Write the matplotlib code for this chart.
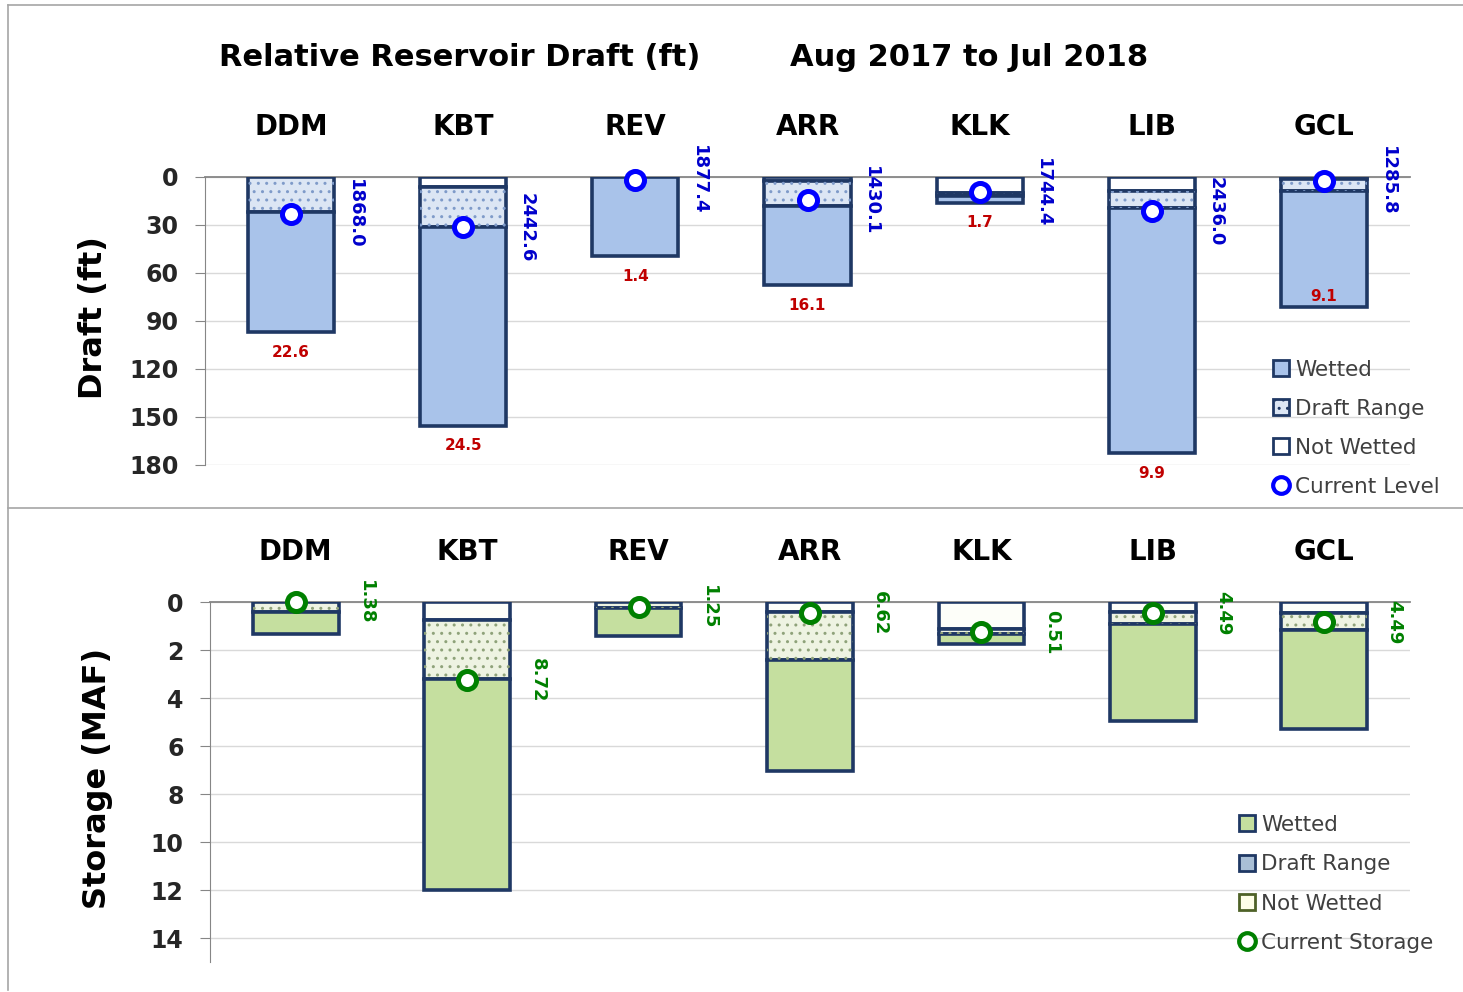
import matplotlib.pyplot as plt
from matplotlib.patches import Patch
from matplotlib.lines import Line2D
import numpy as np

reservoirs = ["DDM", "KBT", "REV", "ARR", "KLK", "LIB", "GCL"]

# relative draft (ft) below full pool
draft_not_wetted = [0, 6.5, 0, 2.5, 10, 9, 1.5]
draft_range = [22, 25, 0, 15.5, 2, 10.5, 7]
draft_wetted = [75, 124, 49.5, 49.5, 4, 153, 73]
draft_current = [23, 31.5, 2, 14.5, 9.5, 21.5, 2.5]
elevation = [1868.0, 2442.6, 1877.4, 1430.1, 1744.4, 2436.0, 1285.8]
draft_red = [22.6, 24.5, 1.4, 16.1, 1.7, 9.9, 9.1]

# storage (MAF)
stor_not_wetted = [0, 0.75, 0, 0.43, 1.12, 0.41, 0.46]
stor_range = [0.4, 2.45, 0.25, 2.0, 0.2, 0.49, 0.72]
stor_wetted = [0.95, 8.8, 1.17, 4.6, 0.45, 4.05, 4.1]
stor_current = [0.02, 3.25, 0.22, 0.45, 1.27, 0.45, 0.85]
stor_full = [1.38, 8.72, 1.25, 6.62, 0.51, 4.49, 4.49]

W, H = 1463, 992
NAVY = "#1F3864"
GRID = "#D9D9D9"
AXC = "#868686"
TXT = "#262626"
narrow = ["Liberation Sans Narrow", "DejaVu Sans"]


def px(x0, y0, x1, y1):
    return [x0 / W, 1 - y1 / H, (x1 - x0) / W, (y1 - y0) / H]


def style_axes(ax, ymax, step):
    ax.set_xlim(-0.5, len(reservoirs) - 0.5)
    ax.set_ylim(ymax, 0)
    ax.set_yticks(np.arange(0, ymax + 0.01, step) if ymax % step == 0 else np.arange(0, ymax, step))
    ax.set_xticks([])
    ax.grid(axis="y", color=GRID, lw=1)
    ax.set_axisbelow(True)
    for s in ["right", "bottom"]:
        ax.spines[s].set_visible(False)
    ax.spines["top"].set_color(AXC)
    ax.spines["top"].set_linewidth(1.3)
    ax.spines["left"].set_color(AXC)
    ax.tick_params(axis="y", length=7, color=AXC, pad=12, labelsize=17,
                   labelcolor=TXT)
    for t in ax.get_yticklabels():
        t.set_fontweight("bold")
    ax.patch.set_alpha(0)


def draw_bars(ax, nw, rng, wet, fc_nw, fc_rng, fc_wet, dot_color):
    x = np.arange(len(reservoirs))
    nw = np.array(nw)
    rng = np.array(rng)
    wet = np.array(wet)
    kw = dict(width=0.5, edgecolor=NAVY, linewidth=2.6, zorder=3)
    ax.bar(x, nw, bottom=0, color=fc_nw, **kw)
    ax.bar(x, rng, bottom=nw, color=fc_rng, **kw)
    ax.bar(x, rng, bottom=nw, width=0.5, fill=False, hatch="..",
           edgecolor=dot_color, linewidth=0, zorder=3.5)
    ax.bar(x, wet, bottom=nw + rng, color=fc_wet, **kw)
    for i, name in enumerate(reservoirs):
        ax.annotate(name, (i, 0), xytext=(0, 36), textcoords="offset points",
                    ha="center", va="center", fontsize=20, fontweight="bold",
                    color="black", annotation_clip=False)
    return x, nw + rng + wet


fig = plt.figure(figsize=(W / 100, H / 100), dpi=100)

# ---- top panel: draft
ax1 = fig.add_axes(px(205, 177, 1410, 465))
x, total = draw_bars(ax1, draft_not_wetted, draft_range, draft_wetted,
                     "white", "#DCE6F4", "#A9C3EA", "#7F9BC9")
style_axes(ax1, 180, 30)
ax1.plot(x, draft_current, "o", ls="none", mfc="white", mec="#0000FF",
         ms=13, mew=3.6, zorder=6, clip_on=False)
for i in range(len(reservoirs)):
    ax1.text(i + 0.37, draft_current[i], f"{elevation[i]:.1f}", rotation=-90,
             ha="center", va="center", color="#0000CC", fontsize=13,
             fontweight="bold", zorder=7)
    if reservoirs[i] == "GCL":
        yl = total[i] - 7
    else:
        yl = total[i] + 12.5
    ax1.text(i, yl, f"{draft_red[i]:.1f}", ha="center", va="center",
             color="#C00000", fontsize=11, fontweight="bold", zorder=7)

h1 = [Patch(fc="#A9C3EA", ec=NAVY, lw=2),
      Patch(fc="#DCE6F4", ec=NAVY, lw=2, hatch=".."),
      Patch(fc="white", ec=NAVY, lw=2),
      Line2D([], [], ls="none", marker="o", mfc="white", mec="#0000FF",
             ms=12, mew=3)]
fig.legend(h1, ["Wetted", "Draft Range", "Not Wetted", "Current Level"],
           loc="upper left", bbox_to_anchor=(1262 / W, 1 - 349 / H),
           frameon=False, fontsize=15.5, handlelength=0.75, handleheight=0.75,
           handletextpad=0.3, labelspacing=0.88, borderpad=0,
           labelcolor="#404040")

# ---- bottom panel: storage
ax2 = fig.add_axes(px(210, 602, 1410, 962))
x, total2 = draw_bars(ax2, stor_not_wetted, stor_range, stor_wetted,
                      "#FDFEF9", "#EEF3E2", "#C5DF9F", "#8FA27A")
style_axes(ax2, 15, 2)
ax2.plot(x, stor_current, "o", ls="none", mfc="white", mec="#008000",
         ms=13, mew=3.6, zorder=6, clip_on=False)
for i in range(len(reservoirs)):
    ax2.text(i + 0.41, stor_current[i], f"{stor_full[i]:.2f}", rotation=-90,
             ha="center", va="center", color="#008000", fontsize=13,
             fontweight="bold", zorder=7)

h2 = [Patch(fc="#C5DF9F", ec=NAVY, lw=2),
      Patch(fc="#A9BFD6", ec=NAVY, lw=2),
      Patch(fc="#FFFFE8", ec="#4F6228", lw=2),
      Line2D([], [], ls="none", marker="o", mfc="white", mec="#008000",
             ms=12, mew=3)]
fig.legend(h2, ["Wetted", "Draft Range", "Not Wetted", "Current Storage"],
           loc="upper left", bbox_to_anchor=(1228 / W, 1 - 804 / H),
           frameon=False, fontsize=15.5, handlelength=0.75, handleheight=0.75,
           handletextpad=0.3, labelspacing=0.9, borderpad=0,
           labelcolor="#404040")

# ---- titles and axis labels
fig.text(460 / W, 1 - 58 / H, "Relative Reservoir Draft (ft)", ha="center",
         va="center", fontsize=22, fontweight="bold", color="black")
fig.text(969 / W, 1 - 58 / H, "Aug 2017 to Jul 2018", ha="center",
         va="center", fontsize=22, fontweight="bold", color="black")
fig.text(93 / W, 1 - 318 / H, "Draft (ft)", rotation=90, ha="center",
         va="center", fontsize=23, fontweight="bold", family=narrow)
fig.text(98 / W, 1 - 778 / H, "Storage (MAF)", rotation=90, ha="center",
         va="center", fontsize=23, fontweight="bold", family=narrow)

# ---- chart borders
bc = "#A6A6A6"
for xs, ys in [([8, W], [5, 5]), ([8, 8], [5, 990]), ([8, W], [508, 508])]:
    fig.add_artist(Line2D([v / W for v in xs], [1 - v / H for v in ys],
                          color=bc, lw=1.2))

fig.savefig("out.png", dpi=100)
